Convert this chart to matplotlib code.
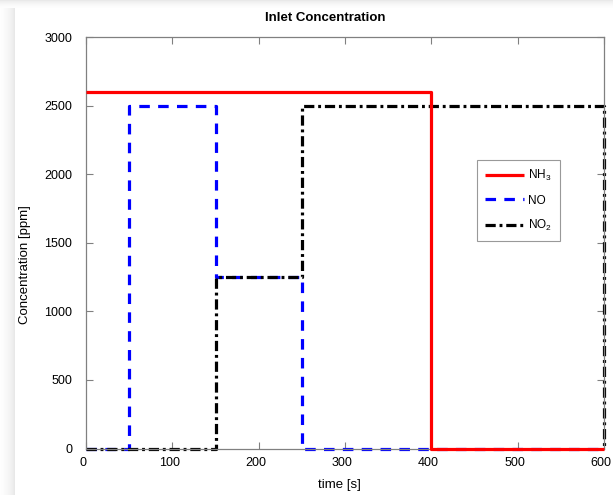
import numpy as np
import matplotlib
matplotlib.use("Agg")
import matplotlib.pyplot as plt
import matplotlib.transforms as mtransforms

plt.rcParams['font.family'] = ['Liberation Sans', 'DejaVu Sans']
plt.rcParams['mathtext.fontset'] = 'custom'
plt.rcParams['mathtext.rm'] = 'Liberation Sans'
plt.rcParams['mathtext.it'] = 'Liberation Sans'

# Data (step profiles)
t_nh3 = [0, 400, 400, 600]
c_nh3 = [2600, 2600, 0, 0]
t_no = [0, 50, 50, 150, 150, 250, 250, 600]
c_no = [0, 0, 2500, 2500, 1250, 1250, 0, 0]
t_no2 = [0, 150, 150, 250, 250, 600, 600]
c_no2 = [0, 0, 1250, 1250, 2500, 2500, 0]
labels = ['NH$_3$', 'NO', 'NO$_2$']
xticks = [0, 100, 200, 300, 400, 500, 600]
yticks = [0, 500, 1000, 1500, 2000, 2500, 3000]

W, H = 613, 495
fig = plt.figure(figsize=(W / 100, H / 100), dpi=100)
fig.patch.set_facecolor('white')

# shadow gradients on left and top
grad = np.linspace(0, 1, 50)[None, :] ** 1.5
gl = fig.add_axes([0, 0, 15 / W, 1])
gl.imshow(grad, aspect='auto', cmap='Greys', vmin=-0.05, vmax=6, extent=[0, 1, 0, 1])
gl.axis('off')
gt = fig.add_axes([0, 1 - 8 / H, 1, 8 / H])
gt.imshow(grad.T[::-1], aspect='auto', cmap='Greys', vmin=-0.05, vmax=6, extent=[0, 1, 0, 1])
gt.axis('off')

left, right, top, bottom = 86, 604, 37, 448.5
ax = fig.add_axes([left / W, (H - bottom) / H, (right - left) / W, (bottom - top) / H])

lw = 2.3
ax.plot(t_nh3, c_nh3, color='#ff0000', lw=lw, solid_capstyle='butt', clip_on=False, label=labels[0], zorder=3)
ax.plot(t_no, c_no, color='#0000ff', lw=lw, linestyle=(0, (3.3, 2.6)), clip_on=False, label=labels[1], zorder=2)
ax.plot(t_no2, c_no2, color='black', lw=lw, linestyle=(0, (3.2, 1.2, 0.9, 1.2)), clip_on=False, label=labels[2], zorder=2.5)

ax.set_xlim(0, 600)
ax.set_ylim(0, 3000)
ax.set_xticks(xticks)
ax.set_yticks(yticks)
ax.tick_params(direction='in', length=5, width=0.8, color='#808080', labelsize=9,
               top=True, right=True)
ax.tick_params(axis='x', pad=6)
ax.tick_params(axis='y', pad=10)
shift = mtransforms.ScaledTranslation(-3 / 100, 0, fig.dpi_scale_trans)
for lab in ax.get_xticklabels():
    lab.set_transform(lab.get_transform() + shift)
for s in ax.spines.values():
    s.set_color('#808080')
    s.set_linewidth(0.9)

fig.text(325 / W, 1 - 18 / H, 'Inlet Concentration', fontsize=9.5, fontweight='bold',
         ha='center', va='center')
fig.text(339 / W, 1 - 485 / H, 'time [s]', fontsize=9.5, ha='center', va='center')
fig.text(25 / W, 1 - 265 / H, 'Concentration [ppm]', fontsize=9.5, ha='center', va='center',
         rotation=90)

leg = ax.legend(loc='upper left', bbox_to_anchor=((477 - left) / (right - left), (bottom - 160) / (bottom - top)),
                fontsize=8.5, frameon=True, fancybox=False, handlelength=3.3, handletextpad=0.3,
                borderpad=0.7, labelspacing=0.95, borderaxespad=0)
leg.get_frame().set_edgecolor('#808080')
leg.get_frame().set_linewidth(0.8)

fig.savefig('out.png', dpi=100, facecolor=fig.get_facecolor())
